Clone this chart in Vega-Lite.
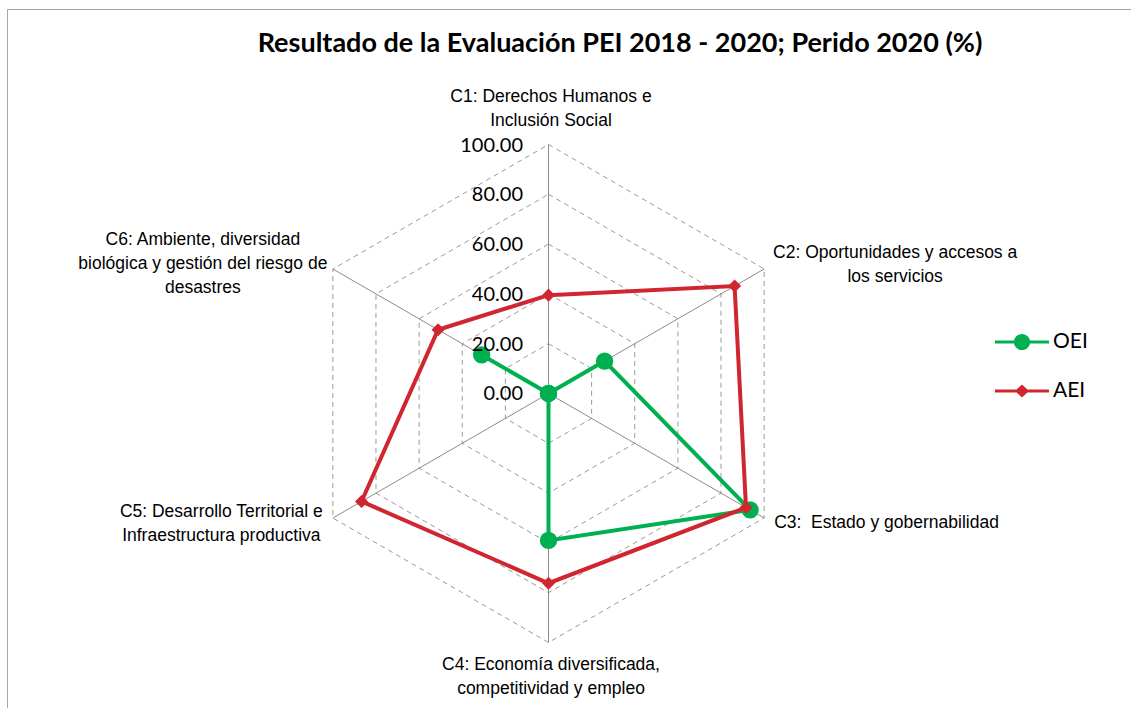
{
  "$schema": "https://vega.github.io/schema/vega-lite/v6.json",
  "width": 1124,
  "height": 699,
  "autosize": {"type": "none"},
  "padding": {"left": 7, "top": 9, "right": 0, "bottom": 0},
  "background": "white",
  "config": {"view": {"stroke": null}},
  "title": {
    "text": "Resultado de la Evaluación PEI 2018 - 2020; Perido 2020 (%)",
    "font": "Lato", "fontSize": 27, "fontWeight": "bold", "color": "#000000",
    "anchor": "middle", "frame": "group", "orient": "top",
    "offset": -70, "baseline": "alphabetic", "dx": 51
  },
  "datasets": {
    "scores": [
      {"cat": "C1", "idx": 0, "serie": "OEI", "value": 0},
      {"cat": "C2", "idx": 1, "serie": "OEI", "value": 26},
      {"cat": "C3", "idx": 2, "serie": "OEI", "value": 93.5},
      {"cat": "C4", "idx": 3, "serie": "OEI", "value": 59},
      {"cat": "C5", "idx": 4, "serie": "OEI", "value": 0},
      {"cat": "C6", "idx": 5, "serie": "OEI", "value": 31},
      {"cat": "C1", "idx": 6, "serie": "OEI", "value": 0},
      {"cat": "C1", "idx": 0, "serie": "AEI", "value": 39.5},
      {"cat": "C2", "idx": 1, "serie": "AEI", "value": 86.3},
      {"cat": "C3", "idx": 2, "serie": "AEI", "value": 91.6},
      {"cat": "C4", "idx": 3, "serie": "AEI", "value": 76.2},
      {"cat": "C5", "idx": 4, "serie": "AEI", "value": 86.7},
      {"cat": "C6", "idx": 5, "serie": "AEI", "value": 51.2},
      {"cat": "C1", "idx": 6, "serie": "AEI", "value": 39.5}
    ],
    "grid": [
      {"level": 20, "idx": 0}, {"level": 20, "idx": 1}, {"level": 20, "idx": 2}, {"level": 20, "idx": 3}, {"level": 20, "idx": 4}, {"level": 20, "idx": 5}, {"level": 20, "idx": 6},
      {"level": 40, "idx": 0}, {"level": 40, "idx": 1}, {"level": 40, "idx": 2}, {"level": 40, "idx": 3}, {"level": 40, "idx": 4}, {"level": 40, "idx": 5}, {"level": 40, "idx": 6},
      {"level": 60, "idx": 0}, {"level": 60, "idx": 1}, {"level": 60, "idx": 2}, {"level": 60, "idx": 3}, {"level": 60, "idx": 4}, {"level": 60, "idx": 5}, {"level": 60, "idx": 6},
      {"level": 80, "idx": 0}, {"level": 80, "idx": 1}, {"level": 80, "idx": 2}, {"level": 80, "idx": 3}, {"level": 80, "idx": 4}, {"level": 80, "idx": 5}, {"level": 80, "idx": 6},
      {"level": 100, "idx": 0}, {"level": 100, "idx": 1}, {"level": 100, "idx": 2}, {"level": 100, "idx": 3}, {"level": 100, "idx": 4}, {"level": 100, "idx": 5}, {"level": 100, "idx": 6}
    ],
    "levels": [
      {"level": 0}, {"level": 20}, {"level": 40}, {"level": 60}, {"level": 80}, {"level": 100}
    ],
    "cats": [
      {"cat": "C1", "idx": 0, "label": "C1: Derechos Humanos e\nInclusión Social"},
      {"cat": "C2", "idx": 1, "label": "C2: Oportunidades y accesos a\nlos servicios"},
      {"cat": "C3", "idx": 2, "label": "C3:\u00a0 Estado y gobernabilidad"},
      {"cat": "C4", "idx": 3, "label": "C4: Economía diversificada,\ncompetitividad y empleo"},
      {"cat": "C5", "idx": 4, "label": "C5: Desarrollo Territorial e\nInfraestructura productiva"},
      {"cat": "C6", "idx": 5, "label": "C6: Ambiente, diversidad\nbiológica y gestión del riesgo de\ndesastres"}
    ]
  },
  "encoding": {
    "x": {"field": "px", "type": "quantitative",
      "scale": {"domain": [-217.47, 233.94], "nice": false, "zero": false},
      "axis": {"orient": "top", "domain": true, "domainColor": "#a6a6a6", "domainWidth": 1, "ticks": false, "labels": false, "grid": false, "title": null}},
    "y": {"field": "py", "type": "quantitative",
      "scale": {"domain": [-126.31, 154.42], "nice": false, "zero": false},
      "axis": {"orient": "left", "domain": true, "domainColor": "#a6a6a6", "domainWidth": 1, "ticks": false, "labels": false, "grid": false, "title": null}}
  },
  "layer": [
    {
      "data": {"name": "grid"},
      "transform": [
        {"calculate": "datum.level*sin(datum.idx*PI/3)", "as": "px"},
        {"calculate": "datum.level*cos(datum.idx*PI/3)", "as": "py"}
      ],
      "mark": {"type": "line", "color": "#9a9a9a", "strokeWidth": 1, "strokeDash": [5, 4]},
      "encoding": {"detail": {"field": "level", "type": "nominal"}, "order": {"field": "idx", "type": "quantitative"}}
    },
    {
      "data": {"name": "grid"},
      "transform": [
        {"filter": "datum.level == 100 && datum.idx < 6"},
        {"calculate": "datum.level*sin(datum.idx*PI/3)", "as": "px"},
        {"calculate": "datum.level*cos(datum.idx*PI/3)", "as": "py"}
      ],
      "mark": {"type": "rule", "color": "#8c8c8c", "strokeWidth": 1},
      "encoding": {"x2": {"datum": 0}, "y2": {"datum": 0}}
    },
    {
      "data": {"name": "scores"},
      "transform": [
        {"filter": "datum.serie == 'OEI'"},
        {"calculate": "datum.value*sin(datum.idx*PI/3)", "as": "px"},
        {"calculate": "datum.value*cos(datum.idx*PI/3)", "as": "py"}
      ],
      "mark": {"type": "line", "color": "#00B050", "strokeWidth": 4},
      "encoding": {"order": {"field": "idx", "type": "quantitative"}}
    },
    {
      "data": {"name": "scores"},
      "transform": [
        {"filter": "datum.serie == 'OEI' && datum.idx < 6"},
        {"calculate": "datum.value*sin(datum.idx*PI/3)", "as": "px"},
        {"calculate": "datum.value*cos(datum.idx*PI/3)", "as": "py"}
      ],
      "mark": {"type": "point", "shape": "circle", "filled": true, "color": "#00B050", "size": 300, "opacity": 1}
    },
    {
      "data": {"name": "scores"},
      "transform": [
        {"filter": "datum.serie == 'AEI'"},
        {"calculate": "datum.value*sin(datum.idx*PI/3)", "as": "px"},
        {"calculate": "datum.value*cos(datum.idx*PI/3)", "as": "py"}
      ],
      "mark": {"type": "line", "color": "#D0262F", "strokeWidth": 4},
      "encoding": {"order": {"field": "idx", "type": "quantitative"}}
    },
    {
      "data": {"name": "scores"},
      "transform": [
        {"filter": "datum.serie == 'AEI' && datum.idx < 6"},
        {"calculate": "datum.value*sin(datum.idx*PI/3)", "as": "px"},
        {"calculate": "datum.value*cos(datum.idx*PI/3)", "as": "py"}
      ],
      "mark": {"type": "point", "shape": "diamond", "filled": true, "color": "#D0262F", "size": 170, "opacity": 1}
    },
    {
      "data": {"name": "levels"},
      "transform": [
        {"calculate": "0", "as": "px"},
        {"calculate": "datum.level", "as": "py"}
      ],
      "mark": {"type": "text", "align": "right", "baseline": "middle", "dx": -25.5, "dy": 1, "font": "Lato", "fontSize": 20, "color": "#000000"},
      "encoding": {"text": {"field": "level", "type": "quantitative", "format": ".2f"}}
    },
    {
      "data": {"name": "cats"},
      "transform": [
        {"filter": "datum.cat == 'C1'"},
        {"calculate": "100*sin(datum.idx*PI/3)", "as": "px"},
        {"calculate": "100*cos(datum.idx*PI/3)", "as": "py"}
      ],
      "mark": {"type": "text", "align": "center", "baseline": "middle", "dx": 2.5, "dy": -47.5, "lineBreak": "\n", "lineHeight": 24, "font": "Liberation Sans", "fontSize": 17.5, "color": "#000000"},
      "encoding": {"text": {"field": "label", "type": "nominal"}}
    },
    {
      "data": {"name": "cats"},
      "transform": [
        {"filter": "datum.cat == 'C2'"},
        {"calculate": "100*sin(datum.idx*PI/3)", "as": "px"},
        {"calculate": "100*cos(datum.idx*PI/3)", "as": "py"}
      ],
      "mark": {"type": "text", "align": "center", "baseline": "middle", "dx": 131, "dy": -16, "lineBreak": "\n", "lineHeight": 24, "font": "Liberation Sans", "fontSize": 17.5, "color": "#000000"},
      "encoding": {"text": {"field": "label", "type": "nominal"}}
    },
    {
      "data": {"name": "cats"},
      "transform": [
        {"filter": "datum.cat == 'C3'"},
        {"calculate": "100*sin(datum.idx*PI/3)", "as": "px"},
        {"calculate": "100*cos(datum.idx*PI/3)", "as": "py"}
      ],
      "mark": {"type": "text", "align": "left", "baseline": "middle", "dx": 10, "dy": 5, "lineBreak": "\n", "lineHeight": 24, "font": "Liberation Sans", "fontSize": 17.5, "color": "#000000"},
      "encoding": {"text": {"field": "label", "type": "nominal"}}
    },
    {
      "data": {"name": "cats"},
      "transform": [
        {"filter": "datum.cat == 'C4'"},
        {"calculate": "100*sin(datum.idx*PI/3)", "as": "px"},
        {"calculate": "100*cos(datum.idx*PI/3)", "as": "py"}
      ],
      "mark": {"type": "text", "align": "center", "baseline": "middle", "dx": 2.5, "dy": 22.5, "lineBreak": "\n", "lineHeight": 24, "font": "Liberation Sans", "fontSize": 17.5, "color": "#000000"},
      "encoding": {"text": {"field": "label", "type": "nominal"}}
    },
    {
      "data": {"name": "cats"},
      "transform": [
        {"filter": "datum.cat == 'C5'"},
        {"calculate": "100*sin(datum.idx*PI/3)", "as": "px"},
        {"calculate": "100*cos(datum.idx*PI/3)", "as": "py"}
      ],
      "mark": {"type": "text", "align": "center", "baseline": "middle", "dx": -111.5, "dy": -6, "lineBreak": "\n", "lineHeight": 24, "font": "Liberation Sans", "fontSize": 17.5, "color": "#000000"},
      "encoding": {"text": {"field": "label", "type": "nominal"}}
    },
    {
      "data": {"name": "cats"},
      "transform": [
        {"filter": "datum.cat == 'C6'"},
        {"calculate": "100*sin(datum.idx*PI/3)", "as": "px"},
        {"calculate": "100*cos(datum.idx*PI/3)", "as": "py"}
      ],
      "mark": {"type": "text", "align": "center", "baseline": "middle", "dx": -130, "dy": -29, "lineBreak": "\n", "lineHeight": 24, "font": "Liberation Sans", "fontSize": 17.5, "color": "#000000"},
      "encoding": {"text": {"field": "label", "type": "nominal"}}
    },
    {
      "data": {"name": "scores"},
      "transform": [{"filter": "false"}],
      "mark": {"type": "point", "filled": true, "opacity": 1},
      "encoding": {
        "color": {"field": "serie", "type": "nominal",
          "scale": {"domain": ["OEI", "AEI"], "range": ["#00B050", "#D0262F"]},
          "legend": {"orient": "none", "legendX": 988, "legendY": 306, "title": null, "padding": 0,
            "symbolSize": 2916, "symbolStrokeWidth": 0, "labelFont": "Lato", "labelFontSize": 21,
            "labelColor": "#000000", "labelOffset": 4, "rowPadding": 12}},
        "shape": {"field": "serie", "type": "nominal",
          "scale": {"domain": ["OEI", "AEI"], "range": [
            "M-1,-0.055H1V0.055H-1Z M-0.3,0A0.3,0.3,0,1,1,0.3,0A0.3,0.3,0,1,1,-0.3,0Z",
            "M-1,-0.055H1V0.055H-1Z M0,-0.24L0.26,0L0,0.24L-0.26,0Z"
          ]}}
      }
    }
  ]
}
